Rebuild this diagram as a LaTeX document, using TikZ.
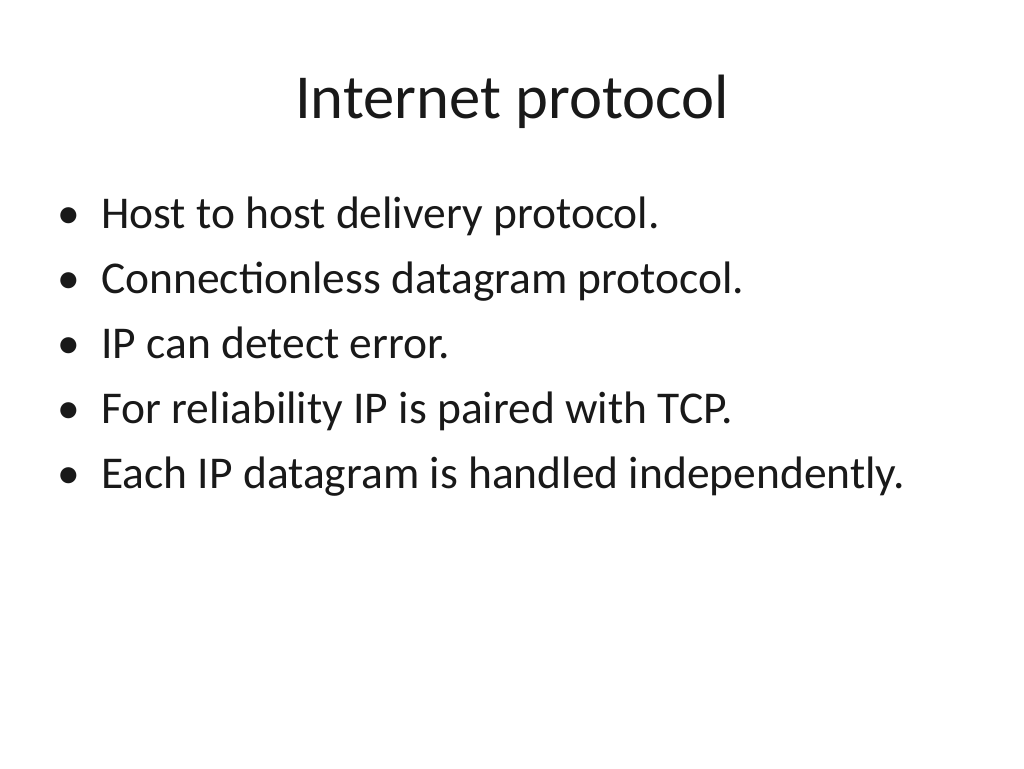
\documentclass[tikz,border=0pt]{standalone}
\usepackage{fontspec}
\setmainfont{Carlito}
\begin{document}
\begin{tikzpicture}[x=1pt,y=-1pt,
  body/.style={anchor=base west,inner sep=0pt,font=\fontsize{45.5}{50}\selectfont,text=black!90}]
\useasboundingbox[fill=white] (0,0) rectangle (1024,768);
\node[anchor=base,inner sep=0pt,font=\fontsize{62.6}{70}\selectfont,text=black!90] (title) at (512,118) {Internet protocol};
\foreach \t [count=\i] in {Host to host delivery protocol.,Connectionless datagram protocol.,IP can detect error.,For reliability IP is paired with TCP.,Each IP datagram is handled independently.}{
  \node[body] (b\i) at (101,163+65*\i) {\t};
  \node[body] (d\i) at (57,163+65*\i) {•};
}
\end{tikzpicture}
\end{document}
